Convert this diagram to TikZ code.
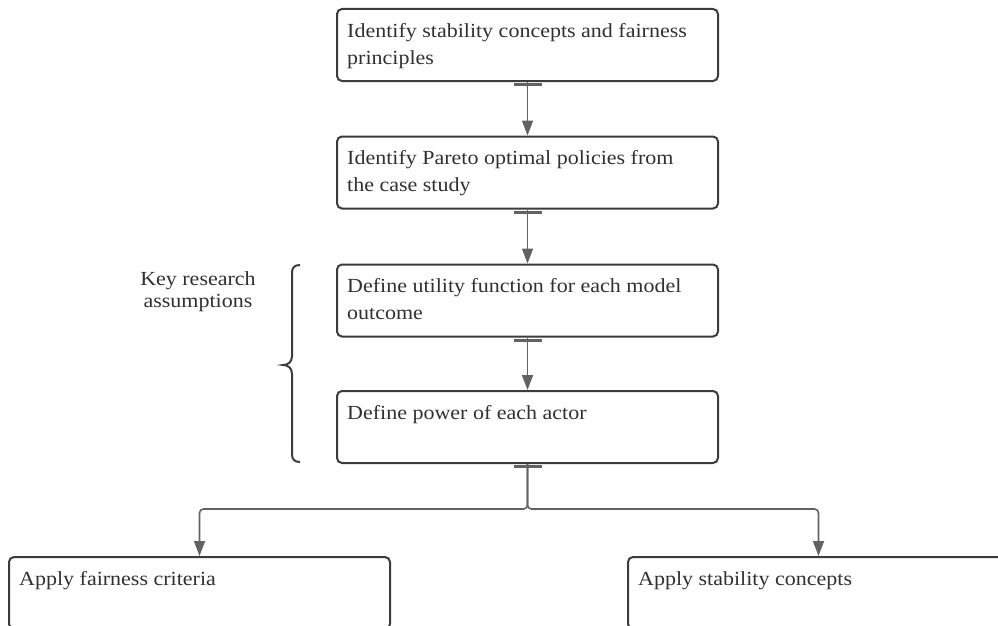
\documentclass[tikz,border=0pt]{standalone}
\usepackage{fontspec}
\setmainfont{Liberation Serif}[FakeStretch=1.1]
\usetikzlibrary{arrows.meta}
\definecolor{boxline}{HTML}{3C3C3C}
\definecolor{txtcol}{HTML}{303030}
\definecolor{linkcol}{HTML}{626262}

\begin{document}
\begin{tikzpicture}[x=1pt,y=-1pt,
  stepbox/.style={draw=boxline, line width=2pt, rounded corners=5pt,
    minimum width=381pt, minimum height=72pt, inner sep=0pt},
  boxtext/.style={anchor=north west, inner sep=0pt, align=left,
    text=txtcol, font=\fontsize{20}{27}\selectfont},
  link/.style={draw=linkcol, line width=1.6pt,
    -{Triangle[width=11pt,length=15pt]}},
  startbar/.style={draw=linkcol, line width=3pt},
  brace/.style={draw=boxline, line width=2pt}]

\useasboundingbox (0,0) rectangle (998,626);
\clip (0,0) rectangle (998,626);

% process steps
\node[stepbox] (b1) at (527.5,45)    {};
\node[stepbox] (b2) at (527.5,172.5) {};
\node[stepbox] (b3) at (527.5,300.5) {};
\node[stepbox] (b4) at (527.5,427)   {};
\node[stepbox] (b5) at (199.5,593)   {};
\node[stepbox] (b6) at (818.5,593)   {};

% step texts
\node[boxtext] (t1) at ([shift={(11pt,-15pt)}]b1.north west) {Identify stability concepts and fairness\\principles};
\node[boxtext] (t2) at ([shift={(11pt,-15pt)}]b2.north west) {Identify Pareto optimal policies from\\the case study};
\node[boxtext] (t3) at ([shift={(11pt,-15pt)}]b3.north west) {Define utility function for each model\\outcome};
\node[boxtext] (t4) at ([shift={(11pt,-15pt)}]b4.north west) {Define power of each actor};
\node[boxtext] (t5) at ([shift={(11pt,-15pt)}]b5.north west) {Apply fairness criteria};
\node[boxtext] (t6) at ([shift={(11pt,-15pt)}]b6.north west) {Apply stability concepts};

% small bars where the connectors leave a box
\foreach \b in {b1,b2,b3,b4}
  \draw[startbar] ([xshift=-14pt,yshift=-2.5pt]\b.south) -- ([xshift=14pt,yshift=-2.5pt]\b.south);

% connectors
\draw[link] (b1.south) -- (b2.north);
\draw[link] (b2.south) -- (b3.north);
\draw[link] (b3.south) -- (b4.north);
\coordinate (fork) at (527.5,509);
\draw[link, rounded corners=4pt] (b4.south) -- (fork) -| (b5.north);
\draw[link, rounded corners=4pt] (b4.south) -- (fork) -| (b6.north);

% brace grouping the assumption steps
\draw[brace] (300,265) .. controls (294,265) and (292,268) .. (292,273)
  -- (292,356) .. controls (292,362) and (288,365) .. (283,365)
  .. controls (288,365) and (292,368) .. (292,374)
  -- (292,454) .. controls (292,459) and (294,462) .. (300,462);
\node[anchor=north, inner sep=0pt, align=center, text=txtcol,
  font=\fontsize{20}{22}\selectfont] (key) at (198,271) {Key research\\assumptions};
\end{tikzpicture}
\end{document}
